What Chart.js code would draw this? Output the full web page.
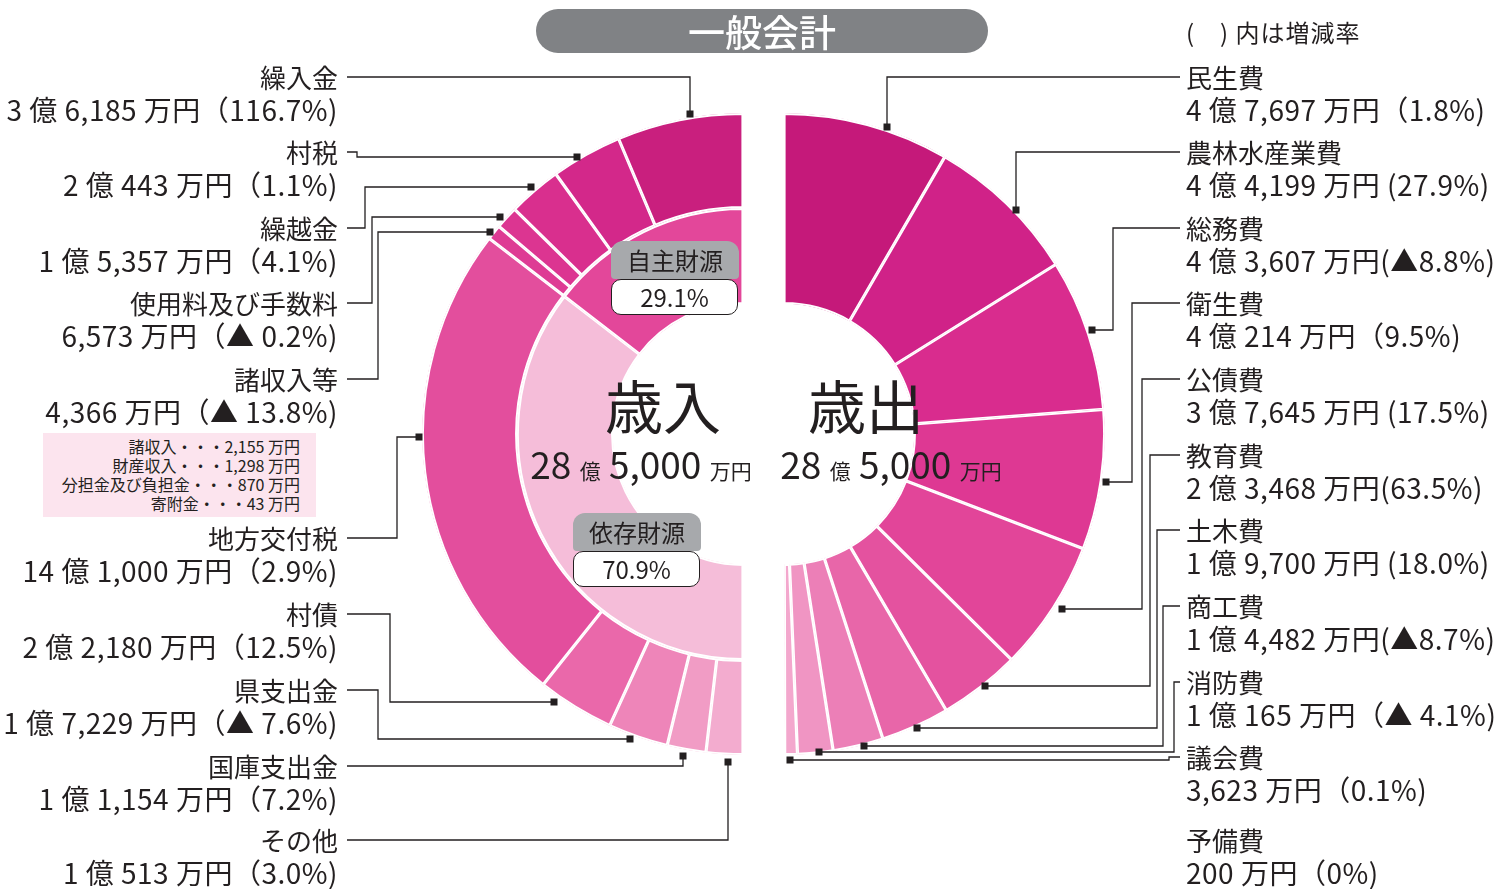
<!DOCTYPE html>
<html lang="ja">
<head>
<meta charset="UTF-8">
<title>一般会計</title>
<script src="https://cdn.jsdelivr.net/npm/chart.js@4.4.0/dist/chart.umd.min.js"></script>
<style>
  body { margin: 0; background: #fff; font-family: "Noto Sans CJK JP", "Noto Sans", sans-serif; color: #231f20; }
  #wrap { position: relative; width: 1512px; height: 889px; overflow: hidden; }
  canvas { position: absolute; left: 0; top: 0; }
  .abs { position: absolute; white-space: pre; }
  .item { position: absolute; white-space: pre; line-height: 32px; }
  .item .nm { font-size: 26px; }
  .item .val { font-size: 28px; letter-spacing: 0.5px; }
  #title { left: 536px; top: 9px; width: 452px; height: 44px; background: #808285; border-radius: 22px;
           color: #fff; font-size: 37px; line-height: 44px; text-align: center; font-weight: 500; }
  .tag { position: absolute; width: 128px; height: 38px; background: #a7a9ac; border-radius: 12px 12px 4px 4px;
         font-size: 24px; line-height: 38px; text-align: center; }
  .pct { position: absolute; width: 125px; height: 34px; background: #fff; border: 1.5px solid #231f20; border-radius: 10px;
         font-size: 24px; line-height: 34px; text-align: center; }
  .big { font-size: 58px; line-height: 80px; text-align: center; width: 200px; }
  .sum { font-size: 37px; line-height: 50px; text-align: center; width: 260px; }
  .sum small { font-size: 21px; }
  #misc { left: 43px; top: 433px; width: 257px; height: 80px; padding: 4px 16px 0 0; background: #fce4ee;
          font-size: 16px; line-height: 19px; text-align: right; }
</style>
</head>
<body>
<div id="wrap">
  <canvas id="revChart" width="1512" height="889"></canvas>
  <canvas id="expChart" width="1512" height="889"></canvas>
  <div id="title" class="abs">一般会計</div>
  <div class="abs" style="left:1186px; top:16px; font-size:24px; line-height:32px; letter-spacing:1px;">(　) 内は増減率</div>
  <div id="misc" class="abs"></div>
</div>
<script>
// 歳入 (万円), listed from the top of the left half downwards
const revenueLabels = ['繰入金', '村税', '繰越金', '使用料及び手数料', '諸収入等', '地方交付税', '村債', '県支出金', '国庫支出金', 'その他'];
const revenueValues = [36185, 20443, 15357, 6573, 4366, 141000, 22180, 17229, 11154, 10513];
const revenueRates = ['（116.7%)', '（1.1%)', '（4.1%)', '（▲ 0.2%)', '（▲ 13.8%)', '（2.9%)', '（12.5%)', '（▲ 7.6%)', '（7.2%)', '（3.0%)'];

// 自主財源 / 依存財源 (%)
const sourceLabels = ['自主財源', '依存財源'];
const sourceShares = [29.1, 70.9];

// 諸収入等の内訳 (万円)
const miscLabels = ['諸収入', '財産収入', '分担金及び負担金', '寄附金'];
const miscValues = [2155, 1298, 870, 43];

// 歳出 (万円), listed from the top of the right half downwards
const expenseLabels = ['民生費', '農林水産業費', '総務費', '衛生費', '公債費', '教育費', '土木費', '商工費', '消防費', '議会費', '予備費'];
const expenseValues = [47697, 44199, 43607, 40214, 37645, 23468, 19700, 14482, 10165, 3623, 200];
const expenseRates = ['（1.8%)', ' (27.9%)', '(▲8.8%)', '（9.5%)', ' (17.5%)', '(63.5%)', ' (18.0%)', '(▲8.7%)', '（▲ 4.1%)', '（0.1%)', '（0%)'];

// colours
const revenueColors = ['#c91f7e', '#d3288a', '#d92f8e', '#dc3591', '#de3b94', '#e34e9d', '#ea68aa', '#ee85b9', '#f19cc5', '#f3accf'];
const sourceColors = ['#e3479a', '#f5bdd9'];
const expenseColors = ['#c5197a', '#d02288', '#d92c8e', '#de3893', '#e24599', '#e4529f', '#e866a9', '#ec7fb7', '#f095c3', '#f3a7cd', '#f5b5d5'];

// geometry of the two half rings
const R = 321, CY = 434, LEFT_CX = 743, RIGHT_CX = 784;
const CUT = '40.5%';

// label rows (y of the name line) and leader lines
const leftRowsY = [77, 152, 228, 303, 379, 538, 614, 690, 766, 840];
const rightRowsY = [77, 152, 228, 303, 379, 455, 530, 606, 682, 757, 840];
const leftLeaders = [
  [[347, 77], [690, 77], [690, 114]],
  [[347, 152], [357, 152], [357, 157], [577, 157]],
  [[347, 228], [365, 228], [365, 187], [531, 187]],
  [[347, 303], [372, 303], [372, 217], [500, 217]],
  [[347, 379], [378, 379], [378, 232], [490, 232]],
  [[347, 538], [397, 538], [397, 437], [419, 437]],
  [[347, 614], [390, 614], [390, 702], [554, 702]],
  [[347, 690], [378, 690], [378, 739], [630, 739]],
  [[347, 766], [683, 766], [683, 756]],
  [[347, 840], [728, 840], [728, 762]]
];
const rightLeaders = [
  [[1180, 77], [887, 77], [887, 127]],
  [[1180, 152], [1016, 152], [1016, 210]],
  [[1180, 228], [1113, 228], [1113, 330], [1092, 330]],
  [[1180, 303], [1132, 303], [1132, 482], [1106, 482]],
  [[1180, 379], [1142, 379], [1142, 609], [1062, 609]],
  [[1180, 455], [1150, 455], [1150, 686], [985, 686]],
  [[1180, 530], [1157, 530], [1157, 728], [917, 728]],
  [[1180, 606], [1163, 606], [1163, 746], [864, 746]],
  [[1180, 682], [1174, 682], [1174, 752], [819, 752]],
  [[1180, 757], [1169, 757], [1169, 760], [790, 760]]
];

function yen(v) {
  const oku = Math.floor(v / 10000);
  const man = (v % 10000).toLocaleString('en-US');
  return oku ? oku + ' 億 ' + man + ' 万円' : man + ' 万円';
}

// leader lines with a small square at the ring end
const leaderPlugin = {
  id: 'leaders',
  afterDraw(chart, args, opts) {
    const ctx = chart.ctx;
    ctx.save();
    ctx.strokeStyle = '#231f20';
    ctx.fillStyle = '#231f20';
    ctx.lineWidth = 1.3;
    opts.paths.forEach(p => {
      ctx.beginPath();
      ctx.moveTo(p[0][0], p[0][1]);
      p.slice(1).forEach(pt => ctx.lineTo(pt[0], pt[1]));
      ctx.stroke();
      const end = p[p.length - 1];
      ctx.fillRect(end[0] - 3.5, end[1] - 3.5, 7, 7);
    });
    ctx.restore();
  }
};

function ringOptions(padding, paths) {
  return {
    responsive: false,
    animation: false,
    events: [],
    cutout: CUT,
    layout: { padding: padding },
    plugins: { legend: { display: false }, tooltip: { enabled: false }, leaders: { paths: paths } }
  };
}

const arcStyle = { borderColor: '#ffffff', borderWidth: 1.6, borderAlign: 'inner', hoverOffset: 0, offset: 0 };

// left half: starts at the bottom and runs clockwise up to the top, so data is reversed
new Chart(document.getElementById('revChart'), {
  type: 'doughnut',
  data: {
    labels: revenueLabels.slice().reverse(),
    datasets: [
      Object.assign({ data: revenueValues.slice().reverse(), backgroundColor: revenueColors.slice().reverse(), weight: 95 }, arcStyle),
      Object.assign({ data: sourceShares.slice().reverse(), backgroundColor: sourceColors.slice().reverse(), weight: 96 }, arcStyle)
    ]
  },
  options: Object.assign(ringOptions(
    { left: LEFT_CX - R, right: 1512 - LEFT_CX, top: CY - R, bottom: 889 - CY - R }, leftLeaders),
    { rotation: 180, circumference: 180 }),
  plugins: [leaderPlugin]
});

new Chart(document.getElementById('expChart'), {
  type: 'doughnut',
  data: {
    labels: expenseLabels,
    datasets: [Object.assign({ data: expenseValues, backgroundColor: expenseColors }, arcStyle)]
  },
  options: Object.assign(ringOptions(
    { left: RIGHT_CX, right: 1512 - RIGHT_CX - R, top: CY - R, bottom: 889 - CY - R }, rightLeaders),
    { rotation: 0, circumference: 180 }),
  plugins: [leaderPlugin]
});

// text
const wrap = document.getElementById('wrap');
function addItem(name, amount, rate, y, side) {
  const d = document.createElement('div');
  d.className = 'item';
  d.style.top = (y - 16) + 'px';
  if (side === 'left') { d.style.right = (1512 - 338) + 'px'; d.style.textAlign = 'right'; }
  else { d.style.left = '1186px'; }
  d.innerHTML = '<div class="nm">' + name + '</div><div class="val">' + amount + rate + '</div>';
  wrap.appendChild(d);
}
revenueLabels.forEach((n, i) => addItem(n, yen(revenueValues[i]), revenueRates[i], leftRowsY[i], 'left'));
expenseLabels.forEach((n, i) => addItem(n, yen(expenseValues[i]), expenseRates[i], rightRowsY[i], 'right'));

document.getElementById('misc').innerHTML = miscLabels
  .map((n, i) => n + '・・・' + miscValues[i].toLocaleString('en-US') + ' 万円').join('<br>');

function addBox(cls, text, x, y) {
  const d = document.createElement('div');
  d.className = cls;
  d.style.left = x + 'px';
  d.style.top = y + 'px';
  d.textContent = text;
  wrap.appendChild(d);
}
addBox('tag', sourceLabels[0], 611, 241);
addBox('pct', sourceShares[0].toFixed(1) + '%', 611, 279);
addBox('tag', sourceLabels[1], 573, 513);
addBox('pct', sourceShares[1].toFixed(1) + '%', 573, 551);

function sumHtml(total) {
  const oku = Math.floor(total / 10000);
  const man = (total % 10000).toLocaleString('en-US');
  return oku + ' <small>億</small> ' + man + ' <small>万円</small>';
}
const revTotal = revenueValues.reduce((a, b) => a + b, 0);
const expTotal = expenseValues.reduce((a, b) => a + b, 0);
function addCenter(word, total, cxWord, cxSum) {
  const w = document.createElement('div');
  w.className = 'abs big';
  w.style.left = (cxWord - 100) + 'px';
  w.style.top = '364px';
  w.textContent = word;
  wrap.appendChild(w);
  const s = document.createElement('div');
  s.className = 'abs sum';
  s.style.left = (cxSum - 130) + 'px';
  s.style.top = '438px';
  s.innerHTML = sumHtml(total);
  wrap.appendChild(s);
}
addCenter('歳入', revTotal, 663, 641);
addCenter('歳出', expTotal, 866, 891);
</script>
</body>
</html>
